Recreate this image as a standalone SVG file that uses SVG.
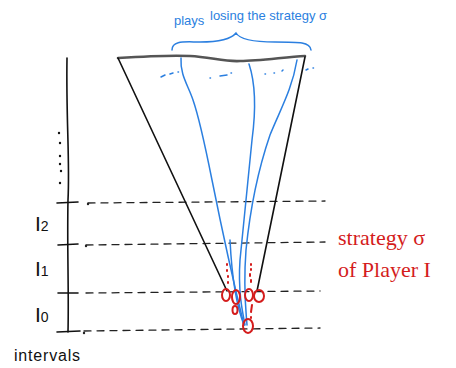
<svg xmlns="http://www.w3.org/2000/svg" width="456" height="368" viewBox="0 0 456 368">
<style>
.ink{fill:none;stroke:#111;stroke-width:1.6;stroke-linecap:round}
.dash{fill:none;stroke:#222;stroke-width:1.3;stroke-dasharray:7 6;stroke-linecap:round}
.blue{fill:none;stroke:#2b7fe0;stroke-width:1.5;stroke-linecap:round}
.red{fill:none;stroke:#d41c1c;stroke-width:2;stroke-linecap:round}
.lbl{font-family:"Liberation Sans",sans-serif;fill:#111}
.bt{font-family:"Liberation Sans",sans-serif;fill:#2b7fe0;font-size:13px}
.rt{font-family:"Liberation Serif",serif;fill:#d41c1c;font-size:22px}
</style>
<rect width="456" height="368" fill="#fff"/>
<g id="axis">
<path class="ink" d="M67,58 C66,120 70,160 68,200 C67,250 69,290 68,332"/>
<path class="ink" d="M57,203 L78,202 M58,245 L78,244 M58,293 L78,293 M57,332 L80,331"/>
<g fill="#111"><circle cx="59" cy="133" r="1.2"/><circle cx="60" cy="143" r="1.2"/><circle cx="60" cy="156" r="1.2"/><circle cx="60" cy="164" r="1.2"/><circle cx="61" cy="171" r="1.2"/><circle cx="60" cy="183" r="1.2"/></g>
</g>
<g id="intervals">
<path class="dash" d="M88,203 L325,201"/>
<path class="dash" d="M86,245 L325,242"/>
<path class="dash" d="M86,293 L320,291"/>
<path class="dash" d="M84,331 L320,328"/>
<g fill="#222"><circle cx="88" cy="204" r="1.2"/><circle cx="86" cy="246" r="1.2"/><circle cx="84" cy="333" r="1.2"/></g>
<text class="lbl" x="35" y="231" font-size="21" font-family="Liberation Serif">I<tspan font-size="14">2</tspan></text>
<text class="lbl" x="35" y="276" font-size="21" font-family="Liberation Serif">I<tspan font-size="14">1</tspan></text>
<text class="lbl" x="35" y="322" font-size="21" font-family="Liberation Serif">I<tspan font-size="14">0</tspan></text>
<text class="lbl" x="14" y="361" font-size="16" textLength="66">intervals</text>
</g>
<g id="cone">
<path d="M118,58 C150,56 170,55 190,56 C210,57 225,62 240,61 C260,61 285,57 305,56" fill="none" stroke="#555" stroke-width="2.6" stroke-linecap="round"/>
<path class="ink" d="M118,58 L227,291"/>
<path class="ink" d="M305,57 L257,291"/>
</g>
<g id="plays">
<path class="blue" d="M172,50 C172,40 185,42 200,42 C222,42 232,38 236,33 C240,40 255,42 275,42 C300,42 310,42 311,50"/>
<text class="bt" x="174" y="25">plays</text>
<text class="bt" x="210" y="20">losing the strategy σ</text>
<path class="blue" d="M181,58 C180,75 188,85 193,100 C200,120 206,150 212,180 C220,220 228,260 244,325"/>
<path class="blue" d="M249,64 C256,85 256,110 252,140 C248,180 243,230 240,260 C238,290 242,310 245,325"/>
<path class="blue" d="M297,60 C292,90 280,110 270,135 C258,170 250,210 246,250 C243,290 246,310 247,325"/>
<path class="blue" d="M230,240 C232,280 238,310 244,325"/>
<path class="blue" stroke-width="1.8" d="M161,77 L165,75 M170,74 L173,73 M178,72 L178.5,72 M210,78 L210.5,78 M220,76 L227,75 M231,73 L231.5,73 M265,74 L265.5,74 M274,73 L274.5,73 M282,71 L283,70 M306,70 L308,69 M313,68 L313.5,68"/>
</g>
<g id="strategy">
<ellipse class="red" cx="226" cy="295" rx="4" ry="6"/>
<ellipse class="red" cx="236" cy="297" rx="4" ry="7"/>
<ellipse class="red" cx="249" cy="295" rx="4" ry="6"/>
<ellipse class="red" cx="259" cy="296" rx="5" ry="6"/>
<ellipse class="red" cx="235" cy="310" rx="2.5" ry="4"/>
<path class="red" d="M252,305 L251,312 M251,317 L251,318"/>
<ellipse class="red" cx="248" cy="326" rx="5" ry="7"/>
<path class="red" stroke-width="2.2" d="M227,264 L227,265 M227,270 L227,271 M228,276 L228,277 M228,282 L228,283 M251,264 L251,265 M251,269 L251,270 M250,274 L250,276 M251,280 L251,282"/>
<text class="rt" x="338" y="245">strategy σ</text>
<text class="rt" x="338" y="277">of Player I</text>
</g>
</svg>
